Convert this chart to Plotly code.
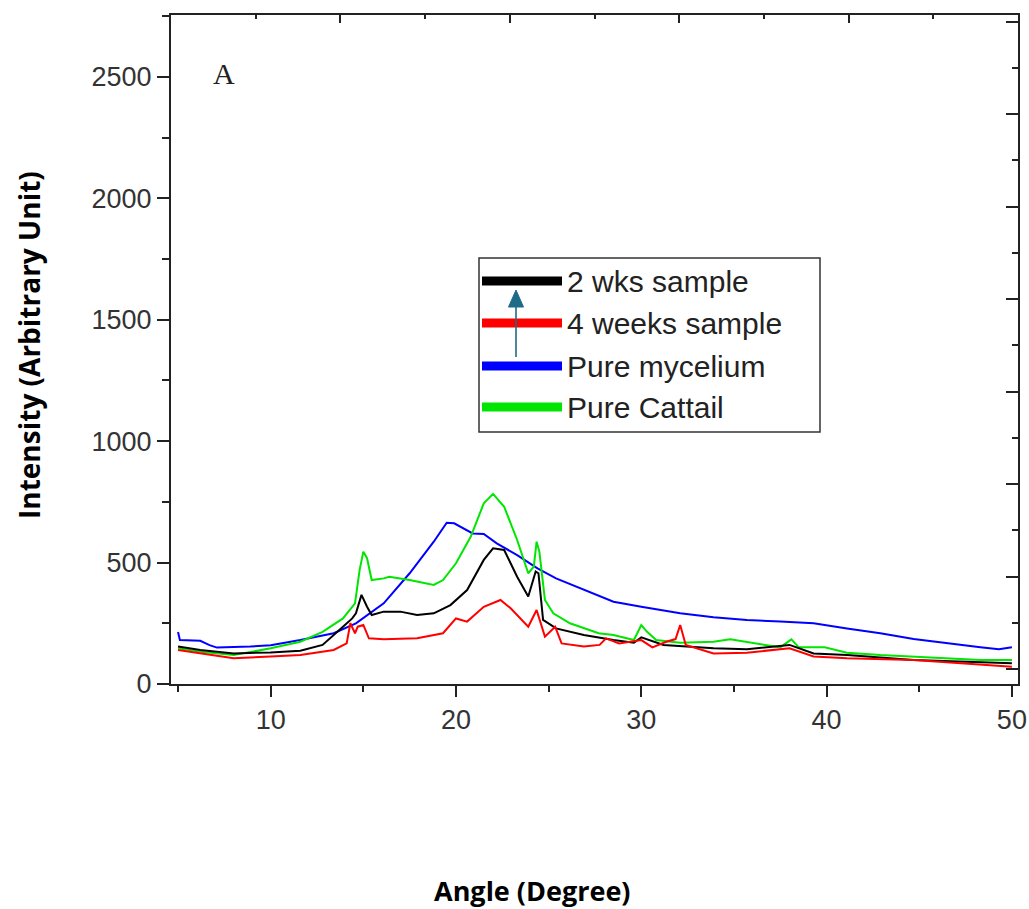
import plotly.graph_objects as go

# ---------------- data ----------------
series_names = ["2 wks sample", "4 weeks sample", "Pure mycelium", "Pure Cattail"]
series_colors = ["#000000", "#ff0000", "#0000ff", "#00e600"]

wk2_x = [5.0, 6.2, 8.0, 10.0, 11.6, 12.8, 13.9, 14.4, 14.6, 14.9, 15.2, 15.45, 16.1, 17.0, 17.9,
         18.8, 19.7, 20.6, 21.5, 22.0, 22.6, 23.3, 23.9, 24.3, 24.45, 24.7, 25.4, 26.9, 28.5,
         29.6, 30.0, 31.2, 33.9, 35.7, 38.0, 39.3, 41.1, 44.7, 50.0]
wk2_y = [154, 140, 126, 130, 137, 161, 236, 270, 291, 367, 318, 284, 298, 298, 284,
         291, 325, 387, 511, 559, 552, 442, 360, 463, 456, 264, 229, 202, 181,
         170, 192, 161, 147, 143, 161, 126, 119, 99, 85]

wk4_x = [5.0, 6.2, 8.0, 10.0, 11.6, 13.4, 14.1, 14.3, 14.55, 14.7, 15.0, 15.3, 16.1, 17.9, 19.3,
         20.0, 20.6, 21.5, 22.4, 22.95, 23.9, 24.35, 24.8, 25.35, 25.7, 26.9, 27.75, 28.1, 28.8,
         30.0, 30.6, 31.35, 31.85, 32.1, 32.4, 33.9, 35.7, 38.0, 39.3, 41.1, 44.7, 50.0]
wk4_y = [140, 126, 106, 113, 119, 140, 167, 250, 209, 236, 243, 188, 184, 188, 209,
         270, 257, 318, 346, 312, 236, 305, 195, 236, 167, 154, 161, 188, 167,
         181, 151, 174, 185, 243, 161, 126, 129, 147, 113, 106, 99, 71]

myc_x = [5.0, 5.1, 6.2, 6.7, 7.1, 8.9, 10.0, 11.6, 13.4, 14.6, 16.1, 17.5, 18.8, 19.5, 19.9,
         20.9, 21.5, 22.2, 23.3, 24.4, 25.4, 26.9, 28.5, 30.0, 32.1, 33.9, 35.7, 37.5, 39.3,
         41.1, 42.9, 44.7, 46.5, 48.3, 49.3, 50.0]
myc_y = [214, 181, 178, 160, 150, 154, 160, 181, 209, 250, 332, 456, 586, 664, 662,
         620, 618, 579, 531, 476, 435, 387, 339, 318, 291, 275, 264, 257, 250,
         229, 209, 185, 167, 151, 143, 151]

cat_x = [5.0, 6.2, 8.0, 10.0, 11.6, 12.8, 13.9, 14.55, 14.8, 15.0, 15.2, 15.45, 16.1, 16.4, 17.5,
         18.8, 19.3, 20.0, 20.8, 21.5, 22.0, 22.6, 23.3, 23.9, 24.2, 24.35, 24.5, 24.8, 25.25,
         26.15, 27.7, 28.5, 29.6, 30.0, 30.3, 30.8, 32.1, 33.9, 34.8, 35.7, 37.5, 38.1, 38.5,
         39.9, 41.1, 42.9, 44.7, 46.5, 48.3, 50.0]
cat_y = [147, 133, 119, 147, 174, 215, 270, 332, 470, 545, 518, 428, 435, 442, 428,
         408, 428, 497, 607, 744, 783, 730, 593, 456, 483, 586, 545, 346, 291,
         250, 209, 202, 181, 243, 216, 181, 170, 174, 184, 174, 151, 184, 151,
         151, 129, 119, 113, 106, 99, 99]

series_x = [wk2_x, wk4_x, myc_x, cat_x]
series_y = [wk2_y, wk4_y, myc_y, cat_y]

x_title = "Angle (Degree)"
y_title = "Intensity (Arbitrary Unit)"
panel_label = "A"

# ---------------- layout geometry ----------------
W, H = 1029, 909
ML, MR, MT, MB = 171, 11, 15, 225


def px(xp):
    return (xp - ML) / (W - ML - MR)


def py(yp):
    return (H - MB - yp) / (H - MT - MB)


fig = go.Figure()

for i in [2, 3, 0, 1]:
    fig.add_trace(go.Scatter(x=series_x[i], y=series_y[i], mode="lines",
                             name=series_names[i],
                             line=dict(color=series_colors[i], width=2),
                             showlegend=False))

# dummy trace to bring the mirrored (top/right) axes to life
fig.add_trace(go.Scatter(x=[None], y=[None], xaxis="x2", yaxis="y2",
                         showlegend=False, hoverinfo="skip"))

axis_col = "#222222"
tick_font = dict(family="Liberation Sans, Arial, sans-serif", size=27, color="#333333")

fig.update_layout(
    width=W, height=H, autosize=False,
    margin=dict(l=ML, r=MR, t=MT, b=MB, pad=0, autoexpand=False),
    paper_bgcolor="white", plot_bgcolor="white",
    showlegend=False,
    xaxis=dict(range=[4.62, 50.33], tickmode="linear", tick0=0, dtick=10,
               ticks="outside", ticklen=11, tickwidth=2, tickcolor=axis_col,
               minor=dict(dtick=5, tick0=0, ticks="outside", ticklen=6, tickwidth=2,
                          tickcolor=axis_col, showgrid=False),
               showline=True, linewidth=2, linecolor=axis_col, automargin=False,
               showgrid=False, zeroline=False, tickfont=tick_font),
    yaxis=dict(range=[0, 2755], tickmode="linear", tick0=0, dtick=500,
               ticks="outside", ticklen=12, tickwidth=2, tickcolor=axis_col,
               minor=dict(dtick=250, tick0=0, ticks="outside", ticklen=7, tickwidth=2,
                          tickcolor=axis_col, showgrid=False),
               showline=True, linewidth=2, linecolor=axis_col, automargin=False,
               showgrid=False, zeroline=False, tickfont=tick_font),
    xaxis2=dict(overlaying="x", side="top", range=[0, 10], tickmode="linear",
                tick0=0, dtick=2, ticks="inside", ticklen=8, tickwidth=2,
                tickcolor=axis_col, showticklabels=False, automargin=False,
                minor=dict(dtick=1, tick0=0, ticks="inside", ticklen=4, tickwidth=2,
                           tickcolor=axis_col, showgrid=False),
                showline=True, linewidth=2, linecolor=axis_col,
                showgrid=False, zeroline=False),
    yaxis2=dict(overlaying="y", side="right", range=[0, 14.465], tickmode="linear",
                tick0=0.32, dtick=2, ticks="inside", ticklen=12, tickwidth=2,
                tickcolor=axis_col, showticklabels=False, automargin=False,
                minor=dict(dtick=1, tick0=0.32, ticks="inside", ticklen=6, tickwidth=2,
                           tickcolor=axis_col, showgrid=False),
                showline=True, linewidth=2, linecolor=axis_col,
                showgrid=False, zeroline=False),
)

shapes = []
annotations = []

# custom legend box
shapes.append(dict(type="rect", xref="paper", yref="paper",
                   x0=px(479), x1=px(820), y0=py(432), y1=py(258),
                   line=dict(color="#333333", width=1.5), fillcolor="white", layer="above"))
legend_rows = [281, 323, 366, 407]
for name, col, yr in zip(series_names, series_colors, legend_rows):
    shapes.append(dict(type="line", xref="paper", yref="paper",
                       x0=px(482), x1=px(562), y0=py(yr), y1=py(yr),
                       line=dict(color=col, width=9), layer="above"))
    annotations.append(dict(xref="paper", yref="paper", x=px(565), y=py(yr),
                            xanchor="left", yanchor="middle", showarrow=False,
                            text=name,
                            font=dict(family="Liberation Sans, Arial, sans-serif",
                                      size=30, color="#222222")))

# arrow inside legend
arrow_col = "#1f6a86"
shapes.append(dict(type="line", xref="paper", yref="paper",
                   x0=px(516), x1=px(516), y0=py(357), y1=py(305),
                   line=dict(color=arrow_col, width=1.6), layer="above"))
shapes.append(dict(type="path", xref="paper", yref="paper",
                   path="M {a},{b} L {c},{d} L {e},{f} Z".format(
                       a=px(508.5), b=py(307), c=px(523.5), d=py(307), e=px(516), f=py(290)),
                   line=dict(color=arrow_col, width=1), fillcolor=arrow_col, layer="above"))

# panel label
annotations.append(dict(xref="paper", yref="paper", x=px(224), y=py(73),
                        xanchor="center", yanchor="middle", showarrow=False,
                        text=panel_label,
                        font=dict(family="Liberation Serif, Times New Roman, serif",
                                  size=30, color="#222222")))
# axis titles
annotations.append(dict(xref="paper", yref="paper", x=px(532), y=py(890),
                        xanchor="center", yanchor="middle", showarrow=False,
                        text="<b>" + x_title + "</b>",
                        font=dict(family="Open Sans, Lato, sans-serif", size=27, color="#000000")))
annotations.append(dict(xref="paper", yref="paper", x=px(29), y=py(345),
                        xanchor="center", yanchor="middle", showarrow=False,
                        textangle=-90,
                        text="<b>" + y_title + "</b>",
                        font=dict(family="Open Sans, Lato, sans-serif", size=28, color="#000000")))

fig.update_layout(shapes=shapes, annotations=annotations)

fig.write_html("out.html",
               config={"displayModeBar": False, "responsive": False},
               post_script="document.documentElement.style.overflow='hidden';"
                           "document.body.style.margin='0';document.body.style.overflow='hidden';")
